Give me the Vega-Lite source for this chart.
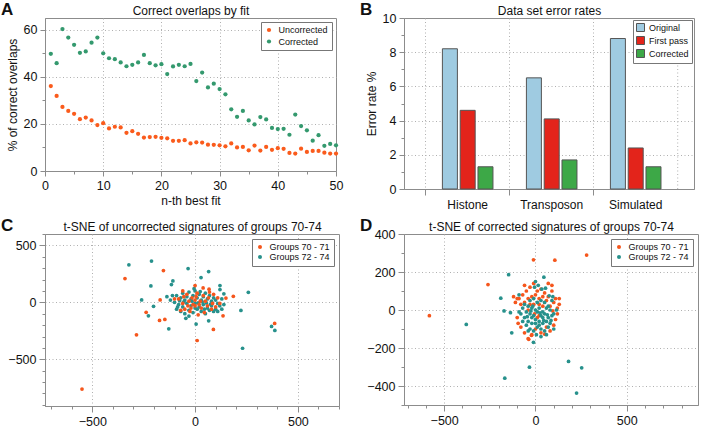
{
 "$schema": "https://vega.github.io/schema/vega-lite/v6.json",
 "padding": {"left": 0, "top": 0, "right": 0, "bottom": 0},
 "background": "white",
 "config": {
  "font": "Liberation Sans",
  "view": {"stroke": "#8c8c8c", "strokeWidth": 1},
  "axis": {"domainColor": "#8c8c8c", "tickColor": "#8c8c8c", "gridColor": "#b0b0b0", "gridDash": [1, 2.5], "labelFontSize": 12.5, "titleFontSize": 12, "titleFontWeight": "normal", "labelColor": "#111", "titleColor": "#111", "labelPadding": 3, "tickSize": 5, "labelOverlap": false, "labelFlush": false},
  "legend": {"title": null, "fillColor": "white", "strokeColor": "#777", "padding": 3.5, "labelFontSize": 9, "rowPadding": 0, "labelOffset": 5, "orient": "top-right", "offset": 4, "symbolType": "circle", "symbolSize": 16, "labelColor": "#111"},
  "title": {"fontSize": 17, "fontWeight": "bold", "anchor": "start", "frame": "group", "offset": 0, "color": "#111", "baseline": "alphabetic"}
 },
 "datasets": {
  "fits": [
   {"n":1,"Uncorrected":36.1,"Corrected":49.8},{"n":2,"Uncorrected":31.9,"Corrected":45.8},{"n":3,"Uncorrected":27.2,"Corrected":60.3},{"n":4,"Uncorrected":25.5,"Corrected":56.7},{"n":5,"Uncorrected":24.3,"Corrected":53.6},
   {"n":6,"Uncorrected":22.0,"Corrected":50.2},{"n":7,"Uncorrected":22.7,"Corrected":50.8},{"n":8,"Uncorrected":21.5,"Corrected":54.5},{"n":9,"Uncorrected":19.5,"Corrected":56.7},{"n":10,"Uncorrected":20.3,"Corrected":50.0},
   {"n":11,"Uncorrected":18.1,"Corrected":47.9},{"n":12,"Uncorrected":18.8,"Corrected":47.5},{"n":13,"Uncorrected":18.5,"Corrected":46.1},{"n":14,"Uncorrected":16.2,"Corrected":44.5},{"n":15,"Uncorrected":16.9,"Corrected":45.1},
   {"n":16,"Uncorrected":15.8,"Corrected":46.1},{"n":17,"Uncorrected":14.2,"Corrected":49.3},{"n":18,"Uncorrected":14.4,"Corrected":45.8},{"n":19,"Uncorrected":14.5,"Corrected":44.9},{"n":20,"Uncorrected":14.1,"Corrected":45.4},
   {"n":21,"Uncorrected":13.9,"Corrected":41.2},{"n":22,"Uncorrected":12.8,"Corrected":44.4},{"n":23,"Uncorrected":12.8,"Corrected":45.1},{"n":24,"Uncorrected":13.1,"Corrected":44.5},{"n":25,"Uncorrected":11.7,"Corrected":45.5},
   {"n":26,"Uncorrected":12.2,"Corrected":38.2},{"n":27,"Uncorrected":12.1,"Corrected":41.8},{"n":28,"Uncorrected":11.2,"Corrected":35.5},{"n":29,"Uncorrected":11.1,"Corrected":37.1},{"n":30,"Uncorrected":10.9,"Corrected":34.8},
   {"n":31,"Uncorrected":10.5,"Corrected":32.6},{"n":32,"Uncorrected":11.7,"Corrected":26.2},{"n":33,"Uncorrected":10.0,"Corrected":23.0},{"n":34,"Uncorrected":10.2,"Corrected":25.5},{"n":35,"Uncorrected":8.8,"Corrected":21.5},
   {"n":36,"Uncorrected":10.8,"Corrected":19.8},{"n":37,"Uncorrected":8.7,"Corrected":22.9},{"n":38,"Uncorrected":10.2,"Corrected":21.9},{"n":39,"Uncorrected":9.0,"Corrected":18.3},{"n":40,"Uncorrected":9.7,"Corrected":17.8},
   {"n":41,"Uncorrected":9.4,"Corrected":17.9},{"n":42,"Uncorrected":7.7,"Corrected":15.4},{"n":43,"Uncorrected":7.4,"Corrected":24.0},{"n":44,"Uncorrected":9.5,"Corrected":19.1},{"n":45,"Uncorrected":8.1,"Corrected":17.3},
   {"n":46,"Uncorrected":8.5,"Corrected":12.9},{"n":47,"Uncorrected":8.5,"Corrected":15.2},{"n":48,"Uncorrected":7.8,"Corrected":10.7},{"n":49,"Uncorrected":7.4,"Corrected":11.5},{"n":50,"Uncorrected":7.4,"Corrected":10.9}
  ],
  "errors": [
   {"dataset":"Histone","stage":"Original","rate":8.2},{"dataset":"Histone","stage":"First pass","rate":4.6},{"dataset":"Histone","stage":"Corrected","rate":1.3},
   {"dataset":"Transposon","stage":"Original","rate":6.5},{"dataset":"Transposon","stage":"First pass","rate":4.1},{"dataset":"Transposon","stage":"Corrected","rate":1.7},
   {"dataset":"Simulated","stage":"Original","rate":8.8},{"dataset":"Simulated","stage":"First pass","rate":2.4},{"dataset":"Simulated","stage":"Corrected","rate":1.3}
  ],
  "tsneU": [
   {"x":-322,"y":329,"g":"Groups 72 - 74"},{"x":-212,"y":362,"g":"Groups 72 - 74"},{"x":-34,"y":297,"g":"Groups 72 - 74"},{"x":66,"y":270,"g":"Groups 72 - 74"},{"x":29,"y":218,"g":"Groups 72 - 74"},{"x":-215,"y":144,"g":"Groups 72 - 74"},{"x":-260,"y":21,"g":"Groups 72 - 74"},{"x":-202,"y":-35,"g":"Groups 72 - 74"},{"x":-227,"y":-118,"g":"Groups 72 - 74"},{"x":-128,"y":-232,"g":"Groups 72 - 74"},{"x":-108,"y":188,"g":"Groups 72 - 74"},{"x":-115,"y":156,"g":"Groups 72 - 74"},{"x":121,"y":147,"g":"Groups 72 - 74"},{"x":121,"y":112,"g":"Groups 72 - 74"},{"x":259,"y":88,"g":"Groups 72 - 74"},{"x":223,"y":-71,"g":"Groups 72 - 74"},{"x":231,"y":-403,"g":"Groups 72 - 74"},{"x":5,"y":-191,"g":"Groups 72 - 74"},{"x":66,"y":-162,"g":"Groups 72 - 74"},{"x":-137,"y":50,"g":"Groups 72 - 74"},{"x":372,"y":-212,"g":"Groups 72 - 74"},{"x":388,"y":-247,"g":"Groups 72 - 74"},
   {"x":-90,"y":60,"g":"Groups 72 - 74"},{"x":-70,"y":40,"g":"Groups 72 - 74"},{"x":-60,"y":80,"g":"Groups 72 - 74"},{"x":-50,"y":20,"g":"Groups 72 - 74"},{"x":-40,"y":50,"g":"Groups 72 - 74"},{"x":-30,"y":90,"g":"Groups 72 - 74"},{"x":-20,"y":30,"g":"Groups 72 - 74"},{"x":-10,"y":60,"g":"Groups 72 - 74"},{"x":0,"y":100,"g":"Groups 72 - 74"},{"x":10,"y":40,"g":"Groups 72 - 74"},{"x":20,"y":70,"g":"Groups 72 - 74"},{"x":30,"y":20,"g":"Groups 72 - 74"},{"x":40,"y":50,"g":"Groups 72 - 74"},{"x":50,"y":80,"g":"Groups 72 - 74"},{"x":60,"y":30,"g":"Groups 72 - 74"},{"x":70,"y":60,"g":"Groups 72 - 74"},{"x":80,"y":10,"g":"Groups 72 - 74"},{"x":90,"y":40,"g":"Groups 72 - 74"},{"x":100,"y":20,"g":"Groups 72 - 74"},{"x":110,"y":-10,"g":"Groups 72 - 74"},{"x":120,"y":-30,"g":"Groups 72 - 74"},{"x":130,"y":30,"g":"Groups 72 - 74"},{"x":-100,"y":0,"g":"Groups 72 - 74"},{"x":-80,"y":-20,"g":"Groups 72 - 74"},{"x":-60,"y":-40,"g":"Groups 72 - 74"},{"x":-40,"y":-10,"g":"Groups 72 - 74"},{"x":-20,"y":-30,"g":"Groups 72 - 74"},{"x":0,"y":-10,"g":"Groups 72 - 74"},{"x":20,"y":-40,"g":"Groups 72 - 74"},{"x":40,"y":-20,"g":"Groups 72 - 74"},{"x":60,"y":-50,"g":"Groups 72 - 74"},{"x":80,"y":-30,"g":"Groups 72 - 74"},{"x":100,"y":-60,"g":"Groups 72 - 74"},{"x":-90,"y":-60,"g":"Groups 72 - 74"},{"x":-70,"y":-80,"g":"Groups 72 - 74"},{"x":-50,"y":-100,"g":"Groups 72 - 74"},{"x":-30,"y":-70,"g":"Groups 72 - 74"},{"x":-10,"y":-90,"g":"Groups 72 - 74"},{"x":10,"y":-60,"g":"Groups 72 - 74"},{"x":30,"y":-80,"g":"Groups 72 - 74"},{"x":50,"y":-100,"g":"Groups 72 - 74"},{"x":70,"y":-70,"g":"Groups 72 - 74"},{"x":90,"y":-80,"g":"Groups 72 - 74"},{"x":-30,"y":-120,"g":"Groups 72 - 74"},{"x":-45,"y":-140,"g":"Groups 72 - 74"},{"x":0,"y":-50,"g":"Groups 72 - 74"},{"x":15,"y":-5,"g":"Groups 72 - 74"},{"x":-15,"y":10,"g":"Groups 72 - 74"},{"x":35,"y":5,"g":"Groups 72 - 74"},{"x":55,"y":-5,"g":"Groups 72 - 74"},{"x":75,"y":-15,"g":"Groups 72 - 74"},{"x":-55,"y":5,"g":"Groups 72 - 74"},{"x":-75,"y":15,"g":"Groups 72 - 74"},{"x":25,"y":95,"g":"Groups 72 - 74"},{"x":-5,"y":120,"g":"Groups 72 - 74"},{"x":45,"y":-60,"g":"Groups 72 - 74"},{"x":-85,"y":-40,"g":"Groups 72 - 74"},{"x":110,"y":-80,"g":"Groups 72 - 74"},{"x":130,"y":-60,"g":"Groups 72 - 74"},{"x":140,"y":-20,"g":"Groups 72 - 74"},{"x":-120,"y":20,"g":"Groups 72 - 74"},{"x":-110,"y":60,"g":"Groups 72 - 74"},{"x":140,"y":75,"g":"Groups 72 - 74"},
   {"x":-550,"y":-761,"g":"Groups 70 - 71"},{"x":-341,"y":209,"g":"Groups 70 - 71"},{"x":-154,"y":279,"g":"Groups 70 - 71"},{"x":-238,"y":-88,"g":"Groups 70 - 71"},{"x":-285,"y":-285,"g":"Groups 70 - 71"},{"x":-173,"y":-159,"g":"Groups 70 - 71"},{"x":-147,"y":-150,"g":"Groups 70 - 71"},{"x":387,"y":-185,"g":"Groups 70 - 71"},{"x":186,"y":53,"g":"Groups 70 - 71"},{"x":150,"y":38,"g":"Groups 70 - 71"},{"x":136,"y":-118,"g":"Groups 70 - 71"},{"x":89,"y":-238,"g":"Groups 70 - 71"},{"x":10,"y":-335,"g":"Groups 70 - 71"},{"x":39,"y":126,"g":"Groups 70 - 71"},{"x":0,"y":147,"g":"Groups 70 - 71"},{"x":68,"y":115,"g":"Groups 70 - 71"},{"x":-170,"y":21,"g":"Groups 70 - 71"},
   {"x":-80,"y":30,"g":"Groups 70 - 71"},{"x":-60,"y":-10,"g":"Groups 70 - 71"},{"x":-40,"y":70,"g":"Groups 70 - 71"},{"x":-20,"y":-50,"g":"Groups 70 - 71"},{"x":0,"y":20,"g":"Groups 70 - 71"},{"x":20,"y":-20,"g":"Groups 70 - 71"},{"x":40,"y":60,"g":"Groups 70 - 71"},{"x":60,"y":-30,"g":"Groups 70 - 71"},{"x":80,"y":-60,"g":"Groups 70 - 71"},{"x":-50,"y":-60,"g":"Groups 70 - 71"},{"x":-30,"y":10,"g":"Groups 70 - 71"},{"x":-10,"y":-20,"g":"Groups 70 - 71"},{"x":10,"y":80,"g":"Groups 70 - 71"},{"x":30,"y":-50,"g":"Groups 70 - 71"},{"x":50,"y":10,"g":"Groups 70 - 71"},{"x":70,"y":90,"g":"Groups 70 - 71"},{"x":90,"y":70,"g":"Groups 70 - 71"},{"x":100,"y":-40,"g":"Groups 70 - 71"},{"x":120,"y":-10,"g":"Groups 70 - 71"},{"x":-70,"y":-70,"g":"Groups 70 - 71"},{"x":-60,"y":100,"g":"Groups 70 - 71"},{"x":5,"y":50,"g":"Groups 70 - 71"},{"x":-25,"y":-80,"g":"Groups 70 - 71"},{"x":45,"y":-90,"g":"Groups 70 - 71"},{"x":15,"y":-110,"g":"Groups 70 - 71"},{"x":-100,"y":30,"g":"Groups 70 - 71"},{"x":-35,"y":-30,"g":"Groups 70 - 71"},{"x":65,"y":40,"g":"Groups 70 - 71"},{"x":-15,"y":40,"g":"Groups 70 - 71"},{"x":25,"y":10,"g":"Groups 70 - 71"},{"x":85,"y":-10,"g":"Groups 70 - 71"},{"x":-55,"y":50,"g":"Groups 70 - 71"},{"x":0,"y":-30,"g":"Groups 70 - 71"},{"x":110,"y":40,"g":"Groups 70 - 71"}
  ],
  "tsneC": [
   {"x":-581,"y":-30,"g":"Groups 70 - 71"},{"x":-260,"y":134,"g":"Groups 70 - 71"},{"x":-11,"y":264,"g":"Groups 70 - 71"},{"x":106,"y":262,"g":"Groups 70 - 71"},{"x":280,"y":289,"g":"Groups 70 - 71"},{"x":-37,"y":-154,"g":"Groups 70 - 71"},{"x":-22,"y":-133,"g":"Groups 70 - 71"},{"x":51,"y":-127,"g":"Groups 70 - 71"},
   {"x":-90,"y":60,"g":"Groups 70 - 71"},{"x":-70,"y":80,"g":"Groups 70 - 71"},{"x":-50,"y":100,"g":"Groups 70 - 71"},{"x":-30,"y":120,"g":"Groups 70 - 71"},{"x":-10,"y":140,"g":"Groups 70 - 71"},{"x":10,"y":100,"g":"Groups 70 - 71"},{"x":30,"y":110,"g":"Groups 70 - 71"},{"x":50,"y":90,"g":"Groups 70 - 71"},{"x":70,"y":70,"g":"Groups 70 - 71"},{"x":90,"y":100,"g":"Groups 70 - 71"},{"x":110,"y":60,"g":"Groups 70 - 71"},{"x":130,"y":30,"g":"Groups 70 - 71"},{"x":120,"y":10,"g":"Groups 70 - 71"},{"x":100,"y":40,"g":"Groups 70 - 71"},{"x":80,"y":20,"g":"Groups 70 - 71"},{"x":60,"y":50,"g":"Groups 70 - 71"},{"x":40,"y":70,"g":"Groups 70 - 71"},{"x":20,"y":60,"g":"Groups 70 - 71"},{"x":0,"y":80,"g":"Groups 70 - 71"},{"x":-20,"y":70,"g":"Groups 70 - 71"},{"x":-40,"y":60,"g":"Groups 70 - 71"},{"x":-60,"y":40,"g":"Groups 70 - 71"},{"x":-80,"y":30,"g":"Groups 70 - 71"},{"x":-100,"y":60,"g":"Groups 70 - 71"},{"x":-110,"y":40,"g":"Groups 70 - 71"},{"x":-10,"y":30,"g":"Groups 70 - 71"},{"x":20,"y":30,"g":"Groups 70 - 71"},{"x":40,"y":20,"g":"Groups 70 - 71"},{"x":-30,"y":30,"g":"Groups 70 - 71"},{"x":90,"y":130,"g":"Groups 70 - 71"},{"x":-60,"y":130,"g":"Groups 70 - 71"},{"x":70,"y":140,"g":"Groups 70 - 71"},{"x":-40,"y":0,"g":"Groups 70 - 71"},{"x":-100,"y":-40,"g":"Groups 70 - 71"},{"x":-95,"y":-70,"g":"Groups 70 - 71"},{"x":-80,"y":-90,"g":"Groups 70 - 71"},{"x":120,"y":-20,"g":"Groups 70 - 71"},{"x":110,"y":-50,"g":"Groups 70 - 71"},{"x":100,"y":-80,"g":"Groups 70 - 71"},{"x":80,"y":-110,"g":"Groups 70 - 71"},{"x":60,"y":-90,"g":"Groups 70 - 71"},{"x":30,"y":-120,"g":"Groups 70 - 71"},{"x":-20,"y":-130,"g":"Groups 70 - 71"},{"x":-40,"y":-150,"g":"Groups 70 - 71"},{"x":0,"y":-100,"g":"Groups 70 - 71"},{"x":-60,"y":-120,"g":"Groups 70 - 71"},{"x":-5,"y":-20,"g":"Groups 70 - 71"},{"x":20,"y":-30,"g":"Groups 70 - 71"},{"x":10,"y":-40,"g":"Groups 70 - 71"},{"x":130,"y":60,"g":"Groups 70 - 71"},{"x":-120,"y":70,"g":"Groups 70 - 71"},{"x":95,"y":-5,"g":"Groups 70 - 71"},
   {"x":-379,"y":-76,"g":"Groups 72 - 74"},{"x":-190,"y":62,"g":"Groups 72 - 74"},{"x":-172,"y":-5,"g":"Groups 72 - 74"},{"x":-137,"y":-14,"g":"Groups 72 - 74"},{"x":-147,"y":186,"g":"Groups 72 - 74"},{"x":-130,"y":-120,"g":"Groups 72 - 74"},{"x":-11,"y":-170,"g":"Groups 72 - 74"},{"x":46,"y":173,"g":"Groups 72 - 74"},{"x":-33,"y":-301,"g":"Groups 72 - 74"},{"x":-168,"y":-359,"g":"Groups 72 - 74"},{"x":181,"y":-271,"g":"Groups 72 - 74"},{"x":253,"y":-304,"g":"Groups 72 - 74"},{"x":225,"y":-437,"g":"Groups 72 - 74"},
   {"x":-70,"y":10,"g":"Groups 72 - 74"},{"x":-50,"y":-10,"g":"Groups 72 - 74"},{"x":-30,"y":-20,"g":"Groups 72 - 74"},{"x":-10,"y":-30,"g":"Groups 72 - 74"},{"x":10,"y":-10,"g":"Groups 72 - 74"},{"x":30,"y":-30,"g":"Groups 72 - 74"},{"x":50,"y":-20,"g":"Groups 72 - 74"},{"x":70,"y":-40,"g":"Groups 72 - 74"},{"x":90,"y":-30,"g":"Groups 72 - 74"},{"x":-60,"y":-40,"g":"Groups 72 - 74"},{"x":-40,"y":-60,"g":"Groups 72 - 74"},{"x":-20,"y":-70,"g":"Groups 72 - 74"},{"x":0,"y":-50,"g":"Groups 72 - 74"},{"x":20,"y":-60,"g":"Groups 72 - 74"},{"x":40,"y":-70,"g":"Groups 72 - 74"},{"x":60,"y":-60,"g":"Groups 72 - 74"},{"x":80,"y":-70,"g":"Groups 72 - 74"},{"x":-50,"y":-80,"g":"Groups 72 - 74"},{"x":-30,"y":-100,"g":"Groups 72 - 74"},{"x":-10,"y":-110,"g":"Groups 72 - 74"},{"x":10,"y":-90,"g":"Groups 72 - 74"},{"x":30,"y":-100,"g":"Groups 72 - 74"},{"x":50,"y":-110,"g":"Groups 72 - 74"},{"x":70,"y":-90,"g":"Groups 72 - 74"},{"x":-80,"y":-20,"g":"Groups 72 - 74"},{"x":-60,"y":30,"g":"Groups 72 - 74"},{"x":-40,"y":20,"g":"Groups 72 - 74"},{"x":-20,"y":10,"g":"Groups 72 - 74"},{"x":0,"y":0,"g":"Groups 72 - 74"},{"x":20,"y":10,"g":"Groups 72 - 74"},{"x":40,"y":-10,"g":"Groups 72 - 74"},{"x":60,"y":10,"g":"Groups 72 - 74"},{"x":80,"y":0,"g":"Groups 72 - 74"},{"x":100,"y":-20,"g":"Groups 72 - 74"},{"x":-70,"y":-60,"g":"Groups 72 - 74"},{"x":-90,"y":-10,"g":"Groups 72 - 74"},{"x":-30,"y":50,"g":"Groups 72 - 74"},{"x":-10,"y":60,"g":"Groups 72 - 74"},{"x":10,"y":40,"g":"Groups 72 - 74"},{"x":30,"y":50,"g":"Groups 72 - 74"},{"x":50,"y":40,"g":"Groups 72 - 74"},{"x":70,"y":20,"g":"Groups 72 - 74"},{"x":90,"y":50,"g":"Groups 72 - 74"},{"x":-20,"y":-40,"g":"Groups 72 - 74"},{"x":0,"y":-70,"g":"Groups 72 - 74"},{"x":20,"y":-80,"g":"Groups 72 - 74"},{"x":40,"y":-40,"g":"Groups 72 - 74"},{"x":60,"y":-130,"g":"Groups 72 - 74"},{"x":-40,"y":-110,"g":"Groups 72 - 74"},{"x":-5,"y":120,"g":"Groups 72 - 74"},{"x":15,"y":130,"g":"Groups 72 - 74"},{"x":35,"y":110,"g":"Groups 72 - 74"},{"x":55,"y":115,"g":"Groups 72 - 74"},{"x":75,"y":75,"g":"Groups 72 - 74"},{"x":-15,"y":20,"g":"Groups 72 - 74"},{"x":25,"y":-15,"g":"Groups 72 - 74"},{"x":45,"y":-55,"g":"Groups 72 - 74"},{"x":65,"y":-25,"g":"Groups 72 - 74"},{"x":85,"y":-55,"g":"Groups 72 - 74"},{"x":-25,"y":-5,"g":"Groups 72 - 74"},{"x":-45,"y":-35,"g":"Groups 72 - 74"},{"x":5,"y":-130,"g":"Groups 72 - 74"},{"x":30,"y":-140,"g":"Groups 72 - 74"},{"x":100,"y":-100,"g":"Groups 72 - 74"},{"x":0,"y":150,"g":"Groups 72 - 74"},{"x":-90,"y":80,"g":"Groups 72 - 74"},{"x":95,"y":70,"g":"Groups 72 - 74"},{"x":115,"y":0,"g":"Groups 72 - 74"}
  ]
 },
 "columns": 2,
 "align": "each",
 "bounds": "flush",
 "spacing": {"row": 45, "column": 65},
 "resolve": {"scale": {"color": "independent"}, "legend": {"color": "independent"}},
 "concat": [
  {
   "width": 291, "height": 153,
   "title": {"text": "A", "dx": -44, "dy": 19},
   "data": {"name": "fits"},
   "transform": [{"fold": ["Uncorrected", "Corrected"], "as": ["series", "pct"]}],
   "resolve": {"axis": {"x": "independent"}},
   "encoding": {
    "y": {"field": "pct", "type": "quantitative", "scale": {"domain": [0, 65], "nice": false},
          "axis": {"title": "% of correct overlaps", "labelOverlap": false, "values": [0,10,20,30,40,50,60], "labelExpr": "datum.value % 20 === 0 ? datum.label : ''",
                   "tickSize": {"condition": {"test": "datum.value % 20 === 0", "value": 5}, "value": 3},
                   "gridOpacity": {"condition": {"test": "datum.value % 20 === 0 && datum.value > 0", "value": 1}, "value": 0}}}
   },
   "layer": [
    {
     "mark": {"type": "circle", "size": 18, "opacity": 1},
     "encoding": {
      "x": {"field": "n", "type": "quantitative", "scale": {"domain": [0, 50], "nice": false},
            "axis": {"title": "n-th best fit", "labelOverlap": false, "labelFlush": false, "values": [0,5,10,15,20,25,30,35,40,45,50], "labelExpr": "datum.value % 10 === 0 ? datum.label : ''",
                     "tickSize": {"condition": {"test": "datum.value % 10 === 0", "value": 5}, "value": 3},
                     "gridOpacity": {"condition": {"test": "datum.value % 10 === 0 && datum.value > 0 && datum.value < 50", "value": 1}, "value": 0}}},
      "color": {"field": "series", "type": "nominal", "scale": {"domain": ["Uncorrected", "Corrected"], "range": ["#fa5b1c", "#34996e"]},
                "legend": {"symbolSize": 18, "padding": 3.5, "rowPadding": 1.5}}
     }
    },
    {
     "mark": {"type": "circle", "opacity": 0},
     "encoding": {
      "x": {"field": "n", "type": "quantitative", "axis": {"orient": "top", "title": "Correct overlaps by fit", "labels": false, "ticks": false, "domain": false, "grid": false, "titlePadding": 1, "minExtent": 0}}
     }
    }
   ]
  },
  {
   "width": 290, "height": 171,
   "title": {"text": "B", "dx": -44, "dy": 19},
   "data": {"name": "errors"},
   "resolve": {"axis": {"x": "independent"}},
   "layer": [
    {
     "mark": {"type": "bar", "stroke": "#555", "strokeWidth": 1},
     "encoding": {
      "x": {"field": "dataset", "type": "nominal", "scale": {"domain": ["Histone", "Transposon", "Simulated"], "paddingInner": 0, "paddingOuter": 0.226, "align": 0.571},
            "axis": {"title": null, "bandPosition": 0, "labelOffset": 0, "grid": true, "tickSize": 6, "labelAngle": 0, "labelPadding": 4, "labelFontSize": 12}},
      "xOffset": {"field": "stage", "type": "nominal", "scale": {"domain": ["Original", "First pass", "Corrected"], "paddingInner": 0.157, "paddingOuter": 0.94}},
      "y": {"field": "rate", "type": "quantitative", "scale": {"domain": [0, 10], "nice": false},
            "axis": {"title": "Error rate %", "labelOverlap": false, "values": [0,1,2,3,4,5,6,7,8,9,10], "labelExpr": "datum.value % 2 === 0 ? datum.label : ''",
                     "tickSize": {"condition": {"test": "datum.value % 2 === 0", "value": 5}, "value": 3},
                     "gridOpacity": {"condition": {"test": "datum.value % 2 === 0 && datum.value > 0 && datum.value < 10", "value": 1}, "value": 0}}},
      "color": {"field": "stage", "type": "nominal", "scale": {"domain": ["Original", "First pass", "Corrected"], "range": ["#9fcbe1", "#e3241b", "#3da847"]},
                "legend": {"symbolType": "square", "symbolSize": 64, "symbolStrokeColor": "#555", "symbolStrokeWidth": 1, "offset": 2, "padding": 3, "rowPadding": 0, "labelOffset": 4}}
     }
    },
    {
     "transform": [{"filter": "datum.dataset === 'Simulated' && datum.stage === 'Original'"}],
     "mark": {"type": "rule", "color": "#b0b0b0", "strokeDash": [1, 2.5]},
     "encoding": {
      "x": {"field": "dataset", "type": "nominal", "bandPosition": 1, "axis": null},
      "y": {"datum": 0, "type": "quantitative",
            "axis": {"title": "Error rate %", "labelOverlap": false, "values": [0,1,2,3,4,5,6,7,8,9,10], "labelExpr": "datum.value % 2 === 0 ? datum.label : ''",
                     "tickSize": {"condition": {"test": "datum.value % 2 === 0", "value": 5}, "value": 3},
                     "gridOpacity": {"condition": {"test": "datum.value % 2 === 0 && datum.value > 0 && datum.value < 10", "value": 1}, "value": 0}}},
      "y2": {"datum": 10}
     }
    },
    {
     "mark": {"type": "point", "opacity": 0},
     "encoding": {
      "x": {"field": "dataset", "type": "nominal", "axis": {"orient": "top", "title": "Data set error rates", "labels": false, "ticks": false, "domain": false, "grid": false, "titlePadding": 1, "minExtent": 0}},
      "y": {"field": "rate", "type": "quantitative",
            "axis": {"title": "Error rate %", "labelOverlap": false, "values": [0,1,2,3,4,5,6,7,8,9,10], "labelExpr": "datum.value % 2 === 0 ? datum.label : ''",
                     "tickSize": {"condition": {"test": "datum.value % 2 === 0", "value": 5}, "value": 3},
                     "gridOpacity": {"condition": {"test": "datum.value % 2 === 0 && datum.value > 0 && datum.value < 10", "value": 1}, "value": 0}}}
     }
    }
   ]
  },
  {
   "width": 294, "height": 172,
   "title": {"text": "C", "dx": -44, "dy": 19},
   "data": {"name": "tsneU"},
   "resolve": {"axis": {"x": "independent"}},
   "encoding": {
    "y": {"field": "y", "type": "quantitative", "scale": {"domain": [-910, 600], "nice": false},
          "axis": {"title": null, "labelOverlap": false, "values": [-900,-800,-700,-600,-500,-400,-300,-200,-100,0,100,200,300,400,500,600], "labelExpr": "datum.value % 500 === 0 ? datum.label : ''",
                   "tickSize": {"condition": {"test": "datum.value % 500 === 0", "value": 6}, "value": 3},
                   "gridOpacity": {"condition": {"test": "datum.value % 500 === 0", "value": 1}, "value": 0}}}
   },
   "layer": [
    {
     "mark": {"type": "circle", "size": 14, "opacity": 1},
     "encoding": {
      "x": {"field": "x", "type": "quantitative", "scale": {"domain": [-730, 700], "nice": false},
            "axis": {"title": null, "labelOverlap": false, "labelFlush": false, "values": [-700,-600,-500,-400,-300,-200,-100,0,100,200,300,400,500,600,700], "labelExpr": "datum.value % 500 === 0 ? datum.label : ''",
                     "tickSize": {"condition": {"test": "datum.value % 500 === 0", "value": 6}, "value": 3},
                     "gridOpacity": {"condition": {"test": "datum.value % 500 === 0", "value": 1}, "value": 0}}},
      "color": {"field": "g", "type": "nominal", "scale": {"domain": ["Groups 70 - 71", "Groups 72 - 74"], "range": ["#f5561c", "#27918c"]},
                "legend": {"offset": 5}}
     }
    },
    {
     "mark": {"type": "circle", "opacity": 0},
     "encoding": {
      "x": {"field": "x", "type": "quantitative", "axis": {"orient": "top", "title": "t-SNE of uncorrected signatures of groups 70-74", "labels": false, "ticks": false, "domain": false, "grid": false, "titlePadding": 1, "minExtent": 0}}
     }
    }
   ]
  },
  {
   "width": 294, "height": 171,
   "title": {"text": "D", "dx": -44, "dy": 19},
   "data": {"name": "tsneC"},
   "resolve": {"axis": {"x": "independent"}},
   "encoding": {
    "y": {"field": "y", "type": "quantitative", "scale": {"domain": [-500, 400], "nice": false},
          "axis": {"title": null, "labelOverlap": false, "values": [-500,-400,-300,-200,-100,0,100,200,300,400], "labelExpr": "datum.value % 200 === 0 ? datum.label : ''",
                   "tickSize": {"condition": {"test": "datum.value % 200 === 0", "value": 6}, "value": 3},
                   "gridOpacity": {"condition": {"test": "datum.value % 200 === 0 && datum.value < 400", "value": 1}, "value": 0}}}
   },
   "layer": [
    {
     "mark": {"type": "circle", "size": 14, "opacity": 1},
     "encoding": {
      "x": {"field": "x", "type": "quantitative", "scale": {"domain": [-720, 890], "nice": false},
            "axis": {"title": null, "labelOverlap": false, "labelFlush": false, "values": [-700,-600,-500,-400,-300,-200,-100,0,100,200,300,400,500,600,700,800], "labelExpr": "datum.value % 500 === 0 ? datum.label : ''",
                     "tickSize": {"condition": {"test": "datum.value % 500 === 0", "value": 6}, "value": 3},
                     "gridOpacity": {"condition": {"test": "datum.value % 500 === 0", "value": 1}, "value": 0}}},
      "color": {"field": "g", "type": "nominal", "scale": {"domain": ["Groups 70 - 71", "Groups 72 - 74"], "range": ["#f5561c", "#27918c"]},
                "legend": {"offset": 5}}
     }
    },
    {
     "mark": {"type": "circle", "opacity": 0},
     "encoding": {
      "x": {"field": "x", "type": "quantitative", "axis": {"orient": "top", "title": "t-SNE of corrected signatures of groups 70-74", "labels": false, "ticks": false, "domain": false, "grid": false, "titlePadding": 1, "minExtent": 0}}
     }
    }
   ]
  }
 ]
}
